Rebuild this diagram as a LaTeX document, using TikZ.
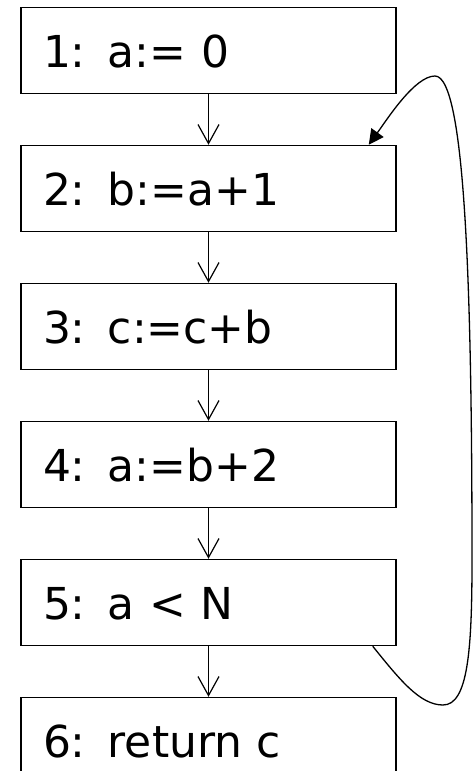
\documentclass[tikz,border=0pt]{standalone}
\usepackage{fontspec}
\setmainfont{DejaVu Sans}
\usepackage{tikz}
\usetikzlibrary{positioning, arrows.meta, calc}

\tikzset{
	stmt/.style={draw, line width=1.5pt, rectangle, minimum width=375pt, minimum height=86pt,
		text width=331pt, align=left, inner xsep=22pt, text height=33pt, text depth=0pt,
		font=\fontsize{44}{53}\selectfont},
	flow/.style={-{Straight Barb[length=19pt, width=21pt]}, line width=1.2pt},
	back/.style={-{Triangle[length=15pt, width=15pt]}, line width=1.3pt}
}

\begin{document}
\begin{tikzpicture}[x=1pt, y=-1pt, node distance=50.5pt]
					\useasboundingbox (0,0) rectangle (473,771);
					\node[stmt] (b1) at (208.5,50.5) {1: a:= 0};
					\node[stmt, below=of b1] (b2) {2: b:=a+1};
					\node[stmt, below=of b2] (b3) {3: c:=c+b};
					\node[stmt, below=of b3] (b4) {4: a:=b+2};
					\node[stmt, below=of b4] (b5) {5: a < N};
					\node[stmt, below=of b5] (b6) {6: return c};
					\draw[flow] (b1) -- (b2);
					\draw[flow] (b2) -- (b3);
					\draw[flow] (b3) -- (b4);
					\draw[flow] (b4) -- (b5);
					\draw[flow] (b5) -- (b6);
					% back edge 5 -> 2
					\coordinate (loopout) at ($(b5.south east)+(-24,0)$);
					\coordinate (loopin) at ($(b2.north east)+(-28,0)$);
					\draw[back] (loopout) .. controls (400,680) and (420,705) .. (443,705)
						.. controls (468,705) and (472,650) .. (472,560)
						.. controls (472,300) and (466,76) .. (435,76)
						.. controls (415,76) and (388,118) .. (loopin);
				\end{tikzpicture}
\end{document}
